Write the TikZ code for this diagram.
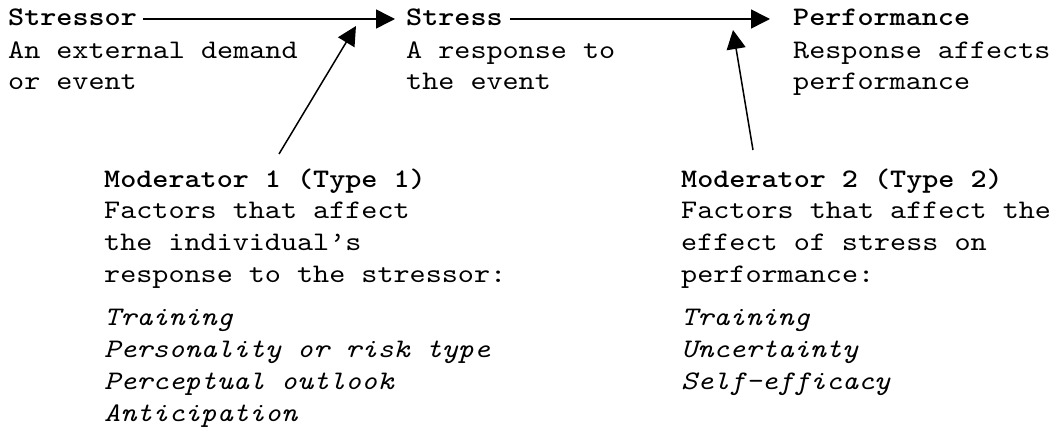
\documentclass[tikz,border=0pt]{standalone}
\usepackage{fontspec}
\setmonofont[Extension=.otf, UprightFont=lmmono10-regular,
  BoldFont=lmmonolt10-bold, ItalicFont=lmmono10-italic,
  FakeStretch=1.143]{lmmono10-regular}
\usetikzlibrary{arrows.meta,positioning}

\tikzset{
  txt/.style={anchor=base west, inner sep=0pt, align=left,
    font=\ttfamily\fontsize{26.8}{31.8}\selectfont},
  head/.style={txt, font=\ttfamily\bfseries\fontsize{26.8}{31.8}\selectfont},
  factors/.style={txt, font=\ttfamily\itshape\fontsize{26.8}{31.8}\selectfont},
  link/.style={-{Triangle[length=19pt,width=19pt]}, line width=1.5pt},
}

\begin{document}
\begin{tikzpicture}[x=1pt,y=1pt]
  \useasboundingbox (0,0) rectangle (1052,-433);

  % chain: stressor -> stress -> performance
  % (multi-line nodes sit on the baseline of their last line)
  \node[head] (stressor) at (8,-26) {Stressor};
  \node[txt] (stressordesc) at (8,-90) {An external demand\\or event};
  \node[head] (stress) at (406,-26) {Stress};
  \node[txt] (stressdesc) at (406,-90) {A response to\\the event};
  \node[head] (perf) at (793,-26) {Performance};
  \node[txt] (perfdesc) at (793,-90) {Response affects\\performance};

  \draw[link] ([shift={(6,7)}]stressor.base east) -- ([shift={(-11,7)}]stress.base west);
  \draw[link] ([shift={(7,7)}]stress.base east) -- ([shift={(-23,7)}]perf.base west);

  % moderators
  \node[head] (mod1) at (104,-187) {Moderator 1 (Type 1)};
  \node[txt] (mod1desc) at (104,-282) {Factors that affect\\the individual’s\\response to the stressor:};
  \node[factors] (mod1list) at (104,-421) {Training\\Personality or risk type\\Perceptual outlook\\Anticipation};

  \node[head] (mod2) at (681,-187) {Moderator 2 (Type 2)};
  \node[txt] (mod2desc) at (681,-282) {Factors that affect the\\effect of stress on\\performance:};
  \node[factors] (mod2list) at (681,-389) {Training\\Uncertainty\\Self-efficacy};

  \coordinate (m1tail) at (279,-154);
  \coordinate (m1tip) at (356,-26);
  \coordinate (m2tail) at (753,-150);
  \coordinate (m2tip) at (733,-30);
  \draw[link] (m1tail) -- (m1tip);
  \draw[link] (m2tail) -- (m2tip);
\end{tikzpicture}
\end{document}
